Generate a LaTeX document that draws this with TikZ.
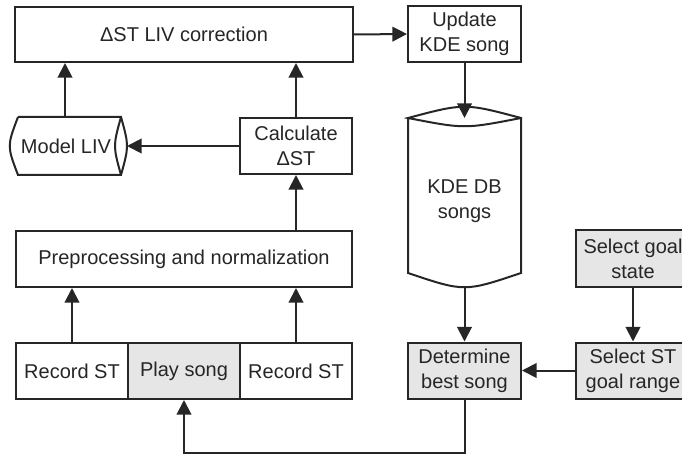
\documentclass[tikz,border=0pt]{standalone}
\usepackage{fontspec}
\setmainfont{Liberation Sans}
\usetikzlibrary{arrows.meta}
\definecolor{boxgray}{HTML}{E6E6E6}
\definecolor{linegray}{HTML}{262626}
\begin{document}
\begin{tikzpicture}[x=0.75pt, y=-0.75pt, line width=1.5pt, color=linegray,
  >={Triangle[length=11pt,width=11pt]},
  every node/.style={font=\fontsize{15}{18.75}\selectfont, inner sep=0pt, align=center},
  blk/.style={draw, fill=white, minimum height=0.75*56},
  grayblk/.style={blk, fill=boxgray}]
				% 1. 画布范围
				\useasboundingbox (0,0) rectangle (682,456);
				
				% 2. 方框
				\node[blk, minimum width=0.75*338, minimum height=0.75*55] (corr) at (184,34.5) {ΔST LIV correction};
				\node[blk, minimum width=0.75*113] (upd) at (464.5,34) {Update\\KDE song};
				\node[blk, minimum width=0.75*112] (calc) at (296,146) {Calculate\\ΔST};
				\node[blk, minimum width=0.75*336] (pre) at (184,259) {Preprocessing and normalization};
				\node[blk, minimum width=0.75*112] (recL) at (72,371) {Record ST};
				\node[grayblk, minimum width=0.75*112] (play) at (184,371) {Play song};
				\node[blk, minimum width=0.75*112] (recR) at (296,371) {Record ST};
				\node[grayblk, minimum width=0.75*113] (det) at (464.5,370.5) {Determine\\best song};
				\node[grayblk, minimum width=0.75*114] (sgs) at (633,258.5) {Select goal\\state};
				\node[grayblk, minimum width=0.75*114] (sst) at (633,370.5) {Select ST\\goal range};
				
				% 3. 数据库（圆柱）
				\draw (408,118) -- (408,273) .. controls (464.5,292) .. (521,273) -- (521,118)
				      .. controls (464.5,103) .. (408,118) .. controls (464.5,129) .. (521,118);
				\node (kde) at (464.5,201) {KDE DB\\songs};
				\draw (18,117) -- (121,117) .. controls (129,146) .. (121,175) -- (18,175)
				      .. controls (7,146) .. (18,117);
				\draw (121,117) .. controls (113,146) .. (121,175);
				\node (liv) at (66,146) {Model LIV};
				\coordinate (livE) at (127,146);
				\coordinate (livN) at (65,117);
				\coordinate (kdeN) at (464.5,118);
				\coordinate (kdeS) at (464.5,287);
				
				% 4. 箭头
				\draw[->] (corr.east) -- (upd.west);
				\draw[->] (upd.south) -- (kdeN);
				\draw[->] (kdeS) -- (det.north);
				\draw[->] (livN) -- (livN |- corr.south);
				\draw[->] (calc.north) -- (calc.north |- corr.south);
				\draw[->] (calc.west) -- (livE);
				\draw[->] (calc.south |- pre.north) -- (calc.south);
				\draw[->] (recL.north) -- (recL.north |- pre.south);
				\draw[->] (recR.north) -- (recR.north |- pre.south);
				\draw[->] (sgs.south) -- (sst.north);
				\draw[->] (sst.west) -- (det.east);
				\draw[->] (det.south) -- ++(0,53) -| (play.south);
			\end{tikzpicture}
\end{document}
